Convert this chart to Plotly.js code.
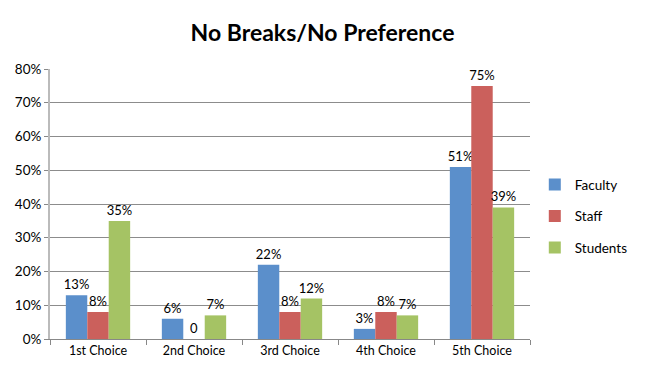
<!DOCTYPE html>
<html><head><meta charset="utf-8">
<script src="https://cdn.plot.ly/plotly-3.0.1.min.js"></script>
<style>html,body{margin:0;padding:0;background:#fff;}#chart{width:645px;height:375px;}</style>
</head><body><div id="chart"></div>
<script>
const categories = ["1st Choice", "2nd Choice", "3rd Choice", "4th Choice", "5th Choice"];
const faculty = [13, 6, 22, 3, 51];
const staff = [8, 0, 8, 8, 75];
const students = [35, 7, 12, 7, 39];
const yTickVals = [0, 10, 20, 30, 40, 50, 60, 70, 80];
const yTickText = ["0%", "10%", "20%", "30%", "40%", "50%", "60%", "70%", "80%"];

const FONT = "Lato, 'Open Sans', Arial, sans-serif";
function lbl(arr){ return arr.map(v => v === 0 ? "0" : v + "%"); }
function mk(name, vals, color){
  return {type:"bar", name:name, legendgroup:name, x:categories, y:vals, text:lbl(vals),
    textposition:"outside", cliponaxis:false, textangle:0,
    textfont:{family:FONT, size:13, color:"#000"},
    marker:{color:color}, hoverinfo:"none"};
}
const data = [
  mk("Faculty", faculty, "#5B8FCB"),
  mk("Staff", staff, "#CB605C"),
  mk("Students", students, "#A5C364")
];
const layout = {
  width:645, height:375,
  margin:{l:50, r:113, t:69, b:36},
  paper_bgcolor:"#fff", plot_bgcolor:"#fff",
  title:{text:"<b>No Breaks/No Preference</b>", font:{family:FONT, size:23, color:"#000"}, x:0.5, xanchor:"center", y:0.912, yanchor:"middle"},
  barmode:"group", bargap:0.33, bargroupgap:0,
  uniformtext:{minsize:13, mode:"show"},
  xaxis:{type:"category", showline:true, linecolor:"#888", linewidth:1, ticks:"outside", tickson:"boundaries", ticklen:5, tickcolor:"#888",
    tickfont:{family:FONT, size:12.5, color:"#000"}, showgrid:false},
  yaxis:{range:[0,80], tickvals:yTickVals, ticktext:yTickText, showline:true, linecolor:"#bbb", linewidth:2,
    ticks:"outside", ticklen:4, tickcolor:"#888", showgrid:true, gridcolor:"#8c8c8c", gridwidth:1,
    tickfont:{family:FONT, size:13.5, color:"#000"}, zeroline:false},
  showlegend:true,
  legend:{x:1.01, xanchor:"left", y:0.455, yanchor:"middle", font:{family:FONT, size:13.5, color:"#000"}, tracegroupgap:11, itemwidth:30, traceorder:"grouped"},
  font:{family:FONT}
};
Plotly.newPlot("chart", data, layout, {staticPlot:true, displayModeBar:false});
</script></body></html>
